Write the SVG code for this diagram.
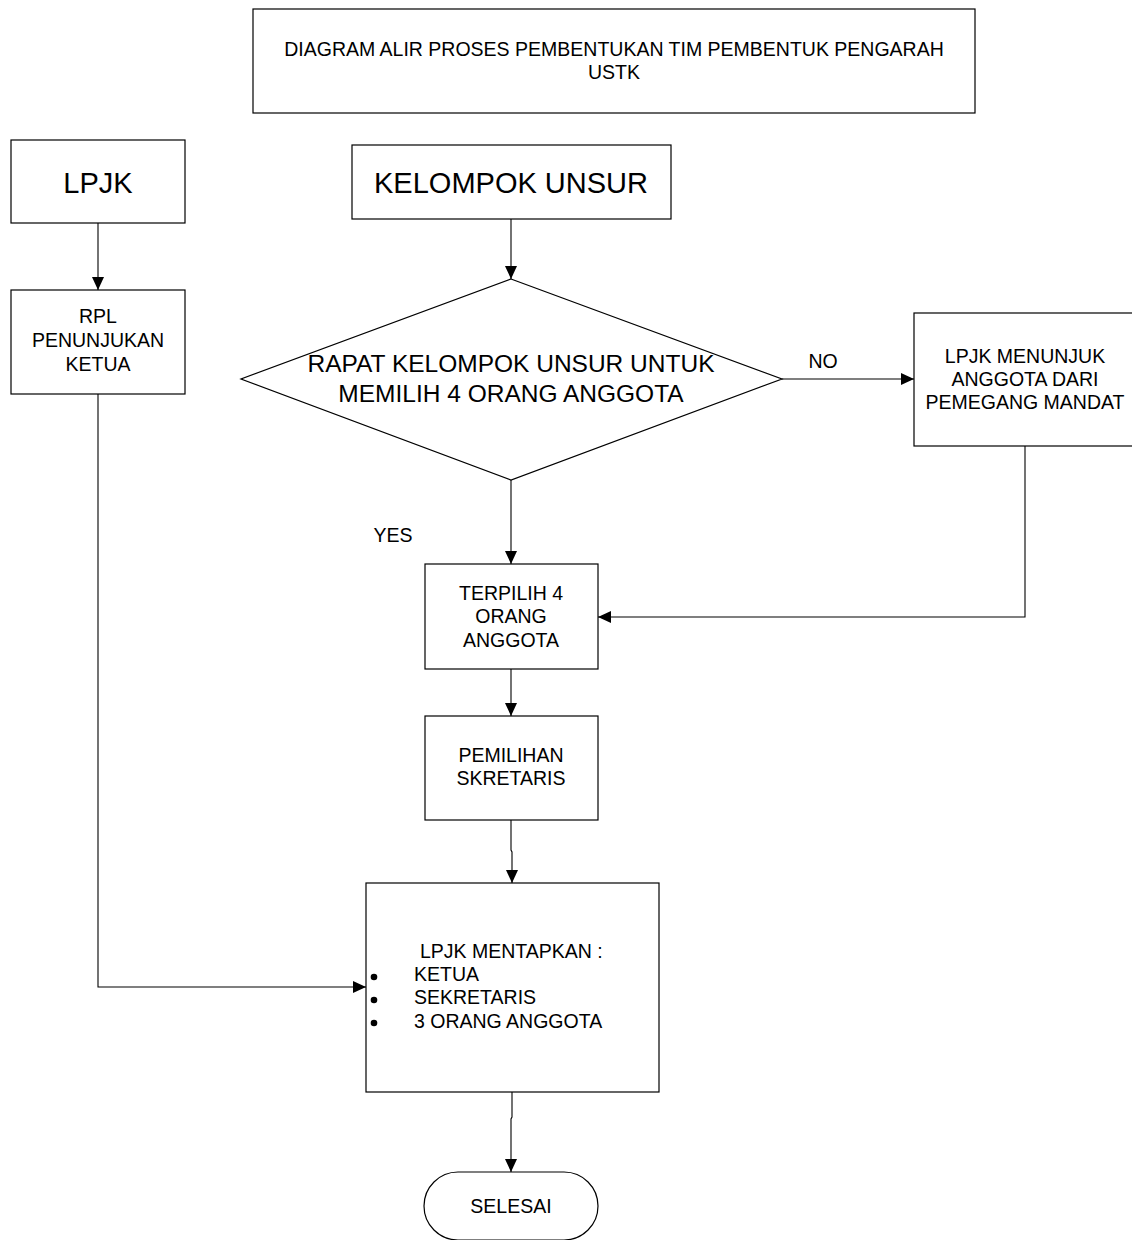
<svg xmlns="http://www.w3.org/2000/svg" width="1132" height="1240" viewBox="0 0 1132 1240">
<style>
  .box { fill: #ffffff; stroke: #000000; stroke-width: 1.2; }
  .t { font-family: "Liberation Sans", Arial, sans-serif; font-size: 19.5px; fill: #000000; }
  .big { font-size: 29px; }
  .dia { font-size: 24.5px; }
  .c { text-anchor: middle; }
  .dot { fill: #000000; }
  .con { fill: none; stroke: #000000; stroke-width: 1.1; }
</style>
<defs>
  <marker id="arr" viewBox="0 0 13 12" refX="13" refY="6" markerWidth="13" markerHeight="12" markerUnits="userSpaceOnUse" orient="auto">
    <path d="M0,0 L13,6 L0,12 z" fill="#000000"/>
  </marker>
</defs>
<rect width="1132" height="1240" fill="#ffffff"/>

<g id="title">
  <rect class="box" x="253" y="9" width="722" height="104"/>
  <text class="t c" x="614" y="56">DIAGRAM ALIR PROSES PEMBENTUKAN TIM PEMBENTUK PENGARAH</text>
  <text class="t c" x="614" y="79">USTK</text>
</g>

<g id="lpjk">
  <rect class="box" x="11" y="140" width="174" height="83"/>
  <text class="t big c" x="98" y="193">LPJK</text>
</g>

<g id="rpl">
  <rect class="box" x="11" y="290" width="174" height="104"/>
  <text class="t c" x="98" y="323">RPL</text>
  <text class="t c" x="98" y="347">PENUNJUKAN</text>
  <text class="t c" x="98" y="371">KETUA</text>
</g>

<g id="kelompok">
  <rect class="box" x="352" y="145" width="319" height="74"/>
  <text class="t big c" x="511" y="193">KELOMPOK UNSUR</text>
</g>

<g id="rapat">
  <polygon class="box" points="511,279 782,379 511,480 241,379"/>
  <text class="t dia c" x="511" y="372">RAPAT KELOMPOK UNSUR UNTUK</text>
  <text class="t dia c" x="511" y="402">MEMILIH 4 ORANG ANGGOTA</text>
</g>

<g id="lpjk-menunjuk">
  <rect class="box" x="914" y="313" width="222" height="133"/>
  <text class="t c" x="1025" y="363">LPJK MENUNJUK</text>
  <text class="t c" x="1025" y="386">ANGGOTA DARI</text>
  <text class="t c" x="1025" y="409">PEMEGANG MANDAT</text>
</g>

<g id="terpilih">
  <rect class="box" x="425" y="564" width="173" height="105"/>
  <text class="t c" x="511" y="600">TERPILIH 4</text>
  <text class="t c" x="511" y="623">ORANG</text>
  <text class="t c" x="511" y="647">ANGGOTA</text>
</g>

<g id="pemilihan">
  <rect class="box" x="425" y="716" width="173" height="104"/>
  <text class="t c" x="511" y="762">PEMILIHAN</text>
  <text class="t c" x="511" y="785">SKRETARIS</text>
</g>

<g id="mentapkan">
  <rect class="box" x="366" y="883" width="293" height="209"/>
  <text class="t" x="420" y="958">LPJK MENTAPKAN :</text>
  <circle class="dot" cx="374" cy="977" r="3.3"/>
  <text class="t" x="414" y="981">KETUA</text>
  <circle class="dot" cx="374" cy="1000" r="3.3"/>
  <text class="t" x="414" y="1004">SEKRETARIS</text>
  <circle class="dot" cx="374" cy="1023" r="3.3"/>
  <text class="t" x="414" y="1028">3 ORANG ANGGOTA</text>
</g>

<g id="selesai">
  <rect class="box" x="424" y="1172" width="174" height="68" rx="34" ry="34"/>
  <text class="t c" x="511" y="1213">SELESAI</text>
</g>

<g id="connectors">
  <path class="con" d="M98,223 V290" marker-end="url(#arr)"/>
  <path class="con" d="M511,219 V279" marker-end="url(#arr)"/>
  <path class="con" d="M782,379 H914" marker-end="url(#arr)"/>
  <path class="con" d="M511,480 V564" marker-end="url(#arr)"/>
  <path class="con" d="M1025,446 V617 H598" marker-end="url(#arr)"/>
  <path class="con" d="M511,669 V716" marker-end="url(#arr)"/>
  <path class="con" d="M511,820 V850 L512,852 V883" marker-end="url(#arr)"/>
  <path class="con" d="M98,394 V987 H366" marker-end="url(#arr)"/>
  <path class="con" d="M512,1092 V1117 L511,1119 V1172" marker-end="url(#arr)"/>
  <text class="t c" x="823" y="368">NO</text>
  <text class="t c" x="393" y="542">YES</text>
</g>
</svg>
